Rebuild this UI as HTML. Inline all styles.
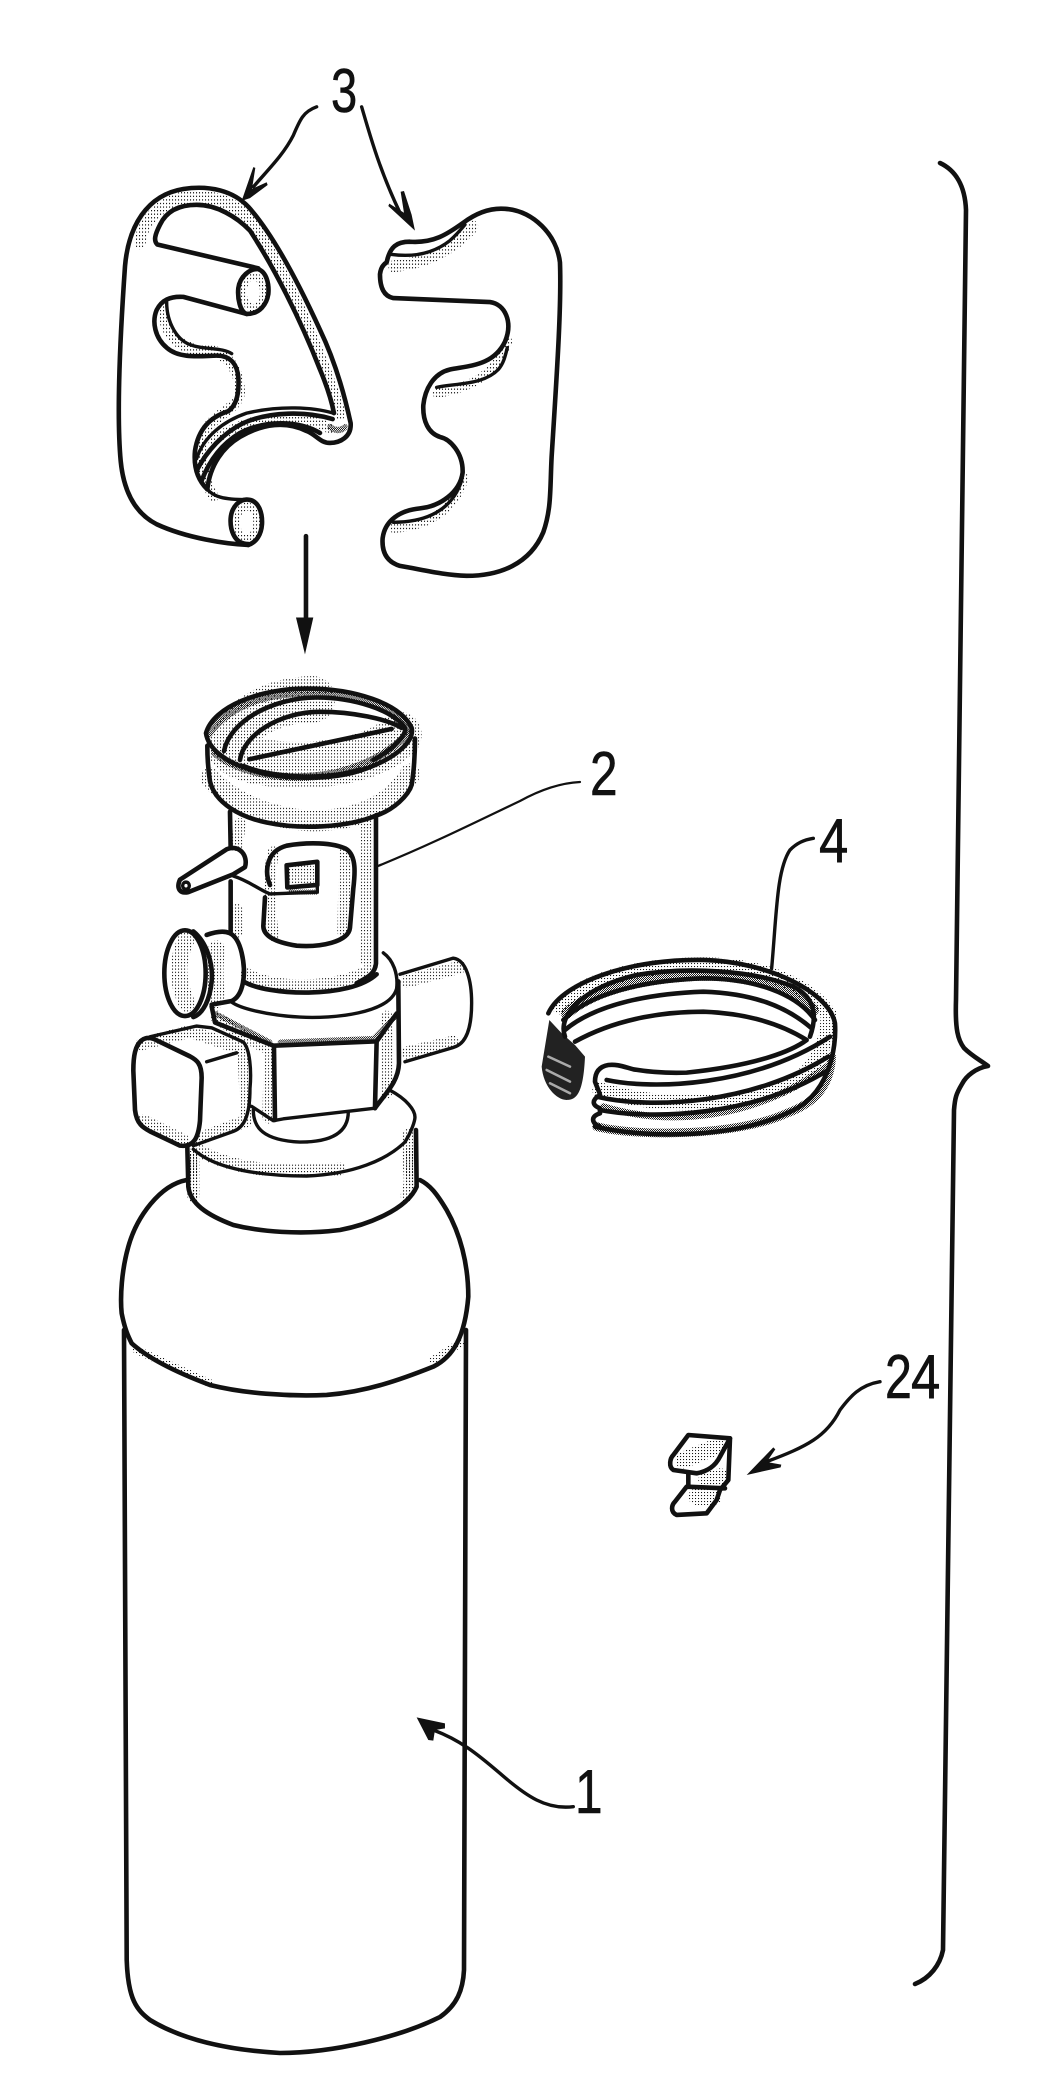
<!DOCTYPE html>
<html><head><meta charset="utf-8"><style>
html,body{margin:0;padding:0;background:#fff}
svg{display:block}
.l{fill:none;stroke:#111;stroke-width:3.4;stroke-linecap:round;stroke-linejoin:round;vector-effect:non-scaling-stroke}
.t{stroke-width:2.2}
.h{stroke-width:4.6}
.f{fill:#111}
.s{fill:none;stroke:url(#lt);stroke-linecap:round}
.d{fill:none;stroke:url(#dk);stroke-linecap:round}
text{font-family:"Liberation Sans",sans-serif;font-size:62px;fill:#111;stroke:#111;stroke-width:.6}
</style></head><body>
<svg width="1052" height="2093" viewBox="0 0 1052 2093" xmlns="http://www.w3.org/2000/svg">
<defs>
<pattern id="lt" width="9" height="9" patternUnits="userSpaceOnUse"><rect width="3.2" height="3.2" fill="#111"/></pattern>
<pattern id="dk" width="6" height="6" patternUnits="userSpaceOnUse"><rect width="3" height="3" fill="#111"/><rect x="3" y="3" width="3" height="3" fill="#111"/></pattern>
</defs>
<rect width="1052" height="2093" fill="#fff"/>

<!-- brace -->
<path class="l h" d="M940 163C955 170 965 185 966 210L956 1000C955 1030 958 1040 964 1048C972 1056 980 1060 988 1066C976 1068 966 1076 962 1084C956 1094 955 1098 954 1110L943 1950C940 1965 930 1978 915 1984"/>

<!-- part 3 group -->
<g transform="translate(100,60) scale(.3333,.3968)">
<path class="s" stroke-width="34" d="M120 460C130 400 190 350 280 345C360 345 420 370 460 410C540 520 640 680 720 890"/>
<path class="s" stroke-width="30" d="M190 630C190 690 240 735 340 735C390 745 420 790 420 840C410 880 350 890 320 930C300 980 300 1040 340 1100"/>
<path class="s" stroke-width="26" d="M340 960C430 900 600 880 690 930"/>
<path class="s" stroke-width="30" d="M880 520C980 510 1060 480 1120 420"/>
<path class="s" stroke-width="24" d="M1010 840C1080 830 1180 810 1225 710"/>
<path class="s" stroke-width="24" d="M880 1180C960 1175 1060 1150 1095 1050"/>
<path class="s" stroke-width="20" d="M460 585m-30 0a30 40 0 1 0 60 0a30 40 0 1 0 -60 0M440 1165m-30 0a30 40 0 1 0 60 0a30 40 0 1 0 -60 0"/>
<path class="d" stroke-width="16" d="M690 925C705 935 725 935 735 925"/>
<!-- left piece -->
<path class="l h" d="M445 1222C380 1220 260 1205 170 1170C100 1140 70 1080 62 1010C50 900 60 700 75 520C85 420 140 340 250 325C330 315 400 330 445 370C520 440 600 570 660 680C700 750 730 830 752 915C755 950 720 965 690 965C660 965 650 945 620 935C560 910 490 915 420 950C370 975 330 1020 322 1082"/>
<path class="l h" d="M445 1220C400 1220 390 1180 392 1155C395 1125 420 1105 445 1108C475 1110 488 1140 486 1170C484 1195 470 1215 445 1222"/>
<path class="l" d="M322 1082C340 1100 370 1108 440 1108"/>
<path class="l h" d="M322 1082C295 1060 280 1030 285 985C295 930 330 900 385 885C410 870 418 840 415 800C412 770 395 745 350 745C310 745 240 755 200 725C165 700 155 660 170 630C185 605 210 595 250 597L440 640"/>
<path class="l h" d="M440 640C420 635 412 600 415 575C420 545 450 525 475 527C500 535 508 565 505 590C500 615 480 640 440 640"/>
<path class="l" d="M200 610C200 660 230 710 280 720C320 730 370 725 395 740"/>
<path class="l h" d="M475 525L172 465C160 455 165 440 180 415C200 380 240 365 290 365C350 365 410 395 450 430C520 520 600 650 660 780C680 820 695 860 702 890"/>
<path class="l" d="M700 890C640 875 540 870 440 890C370 910 310 950 290 1005"/>
<path class="l h" d="M698 905C620 885 510 885 430 915C370 940 320 985 290 1035"/>
<path class="l h" d="M660 940C600 910 500 905 420 940C370 965 330 1005 305 1060"/>
<!-- right piece -->
<path class="l h" d="M860 510C870 470 890 458 930 458C1000 462 1040 440 1090 410C1130 385 1170 372 1215 375C1300 380 1370 440 1380 510C1385 620 1370 800 1355 1000C1350 1080 1355 1130 1330 1190C1290 1270 1200 1300 1100 1300C1030 1298 970 1285 900 1275C860 1265 845 1240 848 1205C855 1160 900 1135 960 1130C1020 1125 1080 1090 1088 1040C1090 990 1050 955 1020 950C985 940 968 910 970 870C975 830 1000 790 1050 780C1110 770 1180 770 1215 710C1240 660 1215 615 1170 610L880 600C850 595 840 570 840 540C842 525 850 515 860 510Z"/>
<path class="l" d="M875 490C920 495 990 495 1050 455C1070 440 1080 430 1095 415"/>
<path class="l" d="M1010 825C1060 815 1150 820 1195 780C1210 765 1215 750 1222 725"/>
<path class="l" d="M880 1165C950 1165 1050 1150 1085 1060"/>
<!-- arrows -->
<path class="l" d="M650 118C610 130 600 150 580 190C550 240 500 280 460 320"/>
<path class="f" d="M425 355L460 270L466 272L456 325L500 308L503 315L450 348Z"/>
<path class="l" d="M785 118C810 190 840 280 900 385"/>
<path class="f" d="M945 430L865 368L868 362L912 385L902 332L912 330L935 390Z"/>
<path class="l h" d="M618 1200L618 1420"/>
<path class="f" d="M615 1498L588 1405L640 1405Z"/>
</g>

<!-- valve -->
<g transform="translate(100,660) scale(.3333,.3571)">
<path class="s" stroke-width="60" d="M330 330C400 410 550 450 640 450C780 450 880 400 930 320"/>
<path class="s" stroke-width="36" d="M420 460L410 520M410 700L410 760M800 460L800 840M520 540C500 620 510 720 520 770M735 540L730 760M440 880C520 925 700 925 810 870"/>
<path class="s" stroke-width="130" d="M640 110C520 110 400 170 390 250C450 310 780 320 900 210"/>
<path class="d" stroke-width="26" d="M325 205C400 110 520 90 630 90C760 90 880 130 925 195"/>
<path class="d" stroke-width="22" d="M345 260C420 320 560 335 650 325C760 315 860 270 925 205"/>
<path class="s" stroke-width="50" d="M580 600L630 600M350 810C340 880 350 930 350 950M260 780C240 820 220 880 260 960"/>
<path class="s" stroke-width="36" d="M350 1000C420 1050 480 1075 510 1090L505 1280M860 1000L860 1210M920 900L1080 860M920 1100L1060 1070"/>
<path class="s" stroke-width="36" d="M125 1075L270 1040L430 1090L440 1290L300 1340M130 1290L250 1345M290 1370C400 1430 560 1440 720 1425M280 1400L280 1500M925 1330C920 1430 940 1450 920 1500"/>
<path class="d" stroke-width="14" d="M570 650L650 650M345 990L510 1070M540 1070L820 1060L885 1000"/>

<!-- cup -->
<path class="l h" d="M318 205C340 130 480 80 620 80C760 80 900 120 935 190C945 230 880 280 780 310C680 340 520 335 430 300C380 285 325 250 318 205Z"/>
<path class="l h" d="M372 255C390 170 520 105 650 105C760 105 880 140 915 190C920 210 880 250 820 280"/>
<path class="l h" d="M420 280C430 210 540 145 660 145C760 145 860 165 905 190"/>
<path class="l h" d="M448 278L875 193"/>
<path class="l" d="M430 295C520 330 680 335 780 305"/>
<path class="l h" d="M322 240C322 280 325 310 330 340C345 400 420 440 500 455C600 475 740 470 830 435C880 420 925 380 935 350C942 310 945 260 945 220"/>
<!-- neck -->
<path class="l h" d="M390 425L392 525M392 620L392 760"/>
<path class="l h" d="M828 435L828 850C825 880 800 890 770 905"/>
<!-- window -->
<path class="l h" d="M510 630C492 590 500 535 560 520C620 510 700 510 740 530C770 550 765 600 760 640L750 750C745 790 660 805 590 800C520 790 490 770 490 745L495 665"/>
<path class="l h" d="M560 575L652 565L652 630L562 637Z"/>
<path class="l" d="M400 605C450 620 480 645 510 655L652 650L652 630"/>
<!-- lever -->
<path class="l h" d="M240 615L380 530C420 515 445 550 435 580L400 600L265 650C240 655 228 640 240 615Z"/>
<circle class="l" cx="258" cy="632" r="10"/>
<!-- knob -->
<ellipse class="l h" cx="255" cy="877" rx="62" ry="120"/>
<path class="l h" d="M280 760C320 790 340 850 335 900C330 950 310 990 280 1000"/>
<path class="l h" d="M320 770C380 750 410 760 425 820C440 880 430 940 395 955L335 965"/>
<!-- ring -->
<path class="l h" d="M430 900C500 940 750 950 830 880"/>
<path class="l" d="M850 820C880 840 895 880 890 920C870 990 700 1005 600 1000C500 995 420 975 395 958"/>
<!-- nut -->
<path class="l h" d="M335 970L345 1015L520 1080L830 1068L890 990"/>
<path class="l h" d="M895 900L897 1130C895 1180 860 1210 825 1255"/>
<path class="l h" d="M522 1085L525 1288M830 1068L825 1255"/>
<path class="l" d="M455 1250L520 1290L550 1285L825 1255"/>
<path class="l" d="M460 1260C460 1310 490 1345 600 1350C700 1350 745 1320 745 1265"/>
<!-- stub -->
<path class="l" d="M900 880L1060 835C1100 840 1115 900 1115 960C1115 1030 1100 1075 1060 1085L915 1125"/>
<!-- block -->
<path class="l h" d="M125 1065C105 1080 100 1110 100 1150L105 1260C110 1300 130 1310 150 1320L240 1360C280 1365 295 1340 300 1290L305 1170C305 1130 290 1120 270 1110L170 1065C150 1055 135 1058 125 1065Z"/>
<path class="l" d="M150 1055L290 1025L335 1030L430 1070C450 1090 455 1150 450 1200C450 1280 430 1310 400 1320L280 1360"/>
<path class="l" d="M320 1125L410 1100"/>
<!-- collar -->
<path class="l" d="M280 1370C350 1430 500 1445 620 1445C760 1440 860 1400 915 1350C935 1320 945 1290 945 1280C945 1260 920 1230 870 1205"/>
</g>

<!-- bottle -->
<g transform="translate(100,1130) scale(.3333)">
<path class="s" stroke-width="24" d="M110 660L330 760M1000 690L1080 640M280 70L280 200M930 60L930 170"/>
<path class="l h" d="M262 50L265 170C270 220 320 255 400 285C480 305 600 315 720 300C800 285 920 240 950 170L948 0"/>
<path class="l h" d="M260 150C180 165 110 260 85 350C65 420 60 500 65 550C75 600 85 620 95 640C150 690 250 735 330 765C430 790 560 800 680 795C800 785 900 750 1000 710C1060 680 1095 620 1105 500C1105 400 1080 310 1040 240C1010 190 990 165 960 150"/>
</g>
<path class="l h" d="M124 1330L126.700 1960C128 2000 137 2010 150 2020C183 2040 227 2050 280 2053C333 2053 400 2037 440 2017C457 2005 463 1990 464 1970L466 1330"/>

<!-- ring part 4 -->
<g transform="translate(520,780) scale(.3333)">
<path class="s" stroke-width="46" d="M120 680C200 590 380 555 550 555C720 555 860 610 925 700C925 800 880 880 800 920C650 980 420 985 240 930"/>
<path class="d" stroke-width="34" d="M140 700C230 620 400 590 550 585C700 585 830 630 880 690"/>
<path class="d" stroke-width="20" d="M250 980C450 1040 700 1020 920 860"/>
<path class="d" stroke-width="26" d="M230 1040C350 1070 650 1070 800 1000C870 975 930 930 935 830"/>
<path d="M88 720L65 860C70 920 110 960 140 960C170 960 190 940 195 830L165 795L125 760Z" fill="#222"/>
<path class="l" style="stroke:#aaa;stroke-width:2.5" d="M85 830L150 860M80 870L150 905M90 910L150 940"/>
<path class="l h" d="M85 700C130 600 350 535 550 540C750 545 930 640 945 730C950 800 930 950 800 1000C650 1070 400 1080 225 1040"/>
<path class="l h" d="M135 770C110 700 200 620 350 585C500 560 700 570 820 620C880 650 895 700 870 770"/>
<path class="l h" d="M130 720C220 630 400 600 550 595C700 595 830 640 885 720"/>
<path class="l h" d="M135 750C230 670 400 640 550 635C700 640 800 680 875 745"/>
<path class="l h" d="M165 785C300 710 450 695 550 695C680 700 780 730 860 780C820 810 720 855 500 878C440 880 380 875 340 868C310 860 290 852 265 855C235 860 225 880 225 905C230 920 240 940 240 945C215 960 215 975 240 985L240 1000C210 1010 215 1030 240 1040"/>
<path class="l h" d="M260 900C400 930 700 920 930 770"/>
<path class="l h" d="M230 950C400 990 700 970 925 830"/>
<path class="l h" d="M240 990C400 1020 700 1010 925 870"/>
<path class="l" d="M755 565C770 400 770 270 810 210C830 190 850 180 880 175"/>
</g>

<!-- clip 24 -->
<g transform="translate(620,1330) scale(.3333)">
<path class="s" stroke-width="50" d="M190 390L290 350M230 500L280 500M260 450L300 440"/>
<path class="l h" d="M205 315L330 325L300 380C285 410 260 425 230 430L160 420C145 410 150 385 160 375Z"/>
<path class="l h" d="M330 325L325 450L300 480L290 510L260 550L170 555C150 545 155 525 165 515L200 470L315 475"/>
<path class="l h" d="M205 430L205 470"/>
<path class="l" d="M780 155C720 165 690 200 660 240C620 320 560 350 440 395"/>
<path class="f" d="M380 435L460 352L466 358L440 396L484 404L482 412L420 426Z"/>
</g>

<!-- leader 2 and 1 -->
<path class="l t" d="M378 866C430 845 480 820 520 801C540 790 560 783 580 782"/>
<g transform="translate(100,1680) scale(.3333)">
<path class="l" d="M1420 380C1340 390 1280 350 1200 280C1130 220 1080 180 1000 150"/>
<path class="f" d="M950 112L1035 130L1035 145L1005 150L1000 182L985 180Z"/>
</g>

<!-- labels -->
<text transform="translate(331,112) scale(.76,1)">3</text>
<text transform="translate(590,795) scale(.8,1)">2</text>
<text transform="translate(819,862) scale(.85,1)">4</text>
<text transform="translate(885,1398) scale(.78,1)">2</text>
<text transform="translate(911,1398) scale(.85,1)">4</text>
<text transform="translate(575,1813) scale(.8,1)">1</text>
</svg>
</body></html>
